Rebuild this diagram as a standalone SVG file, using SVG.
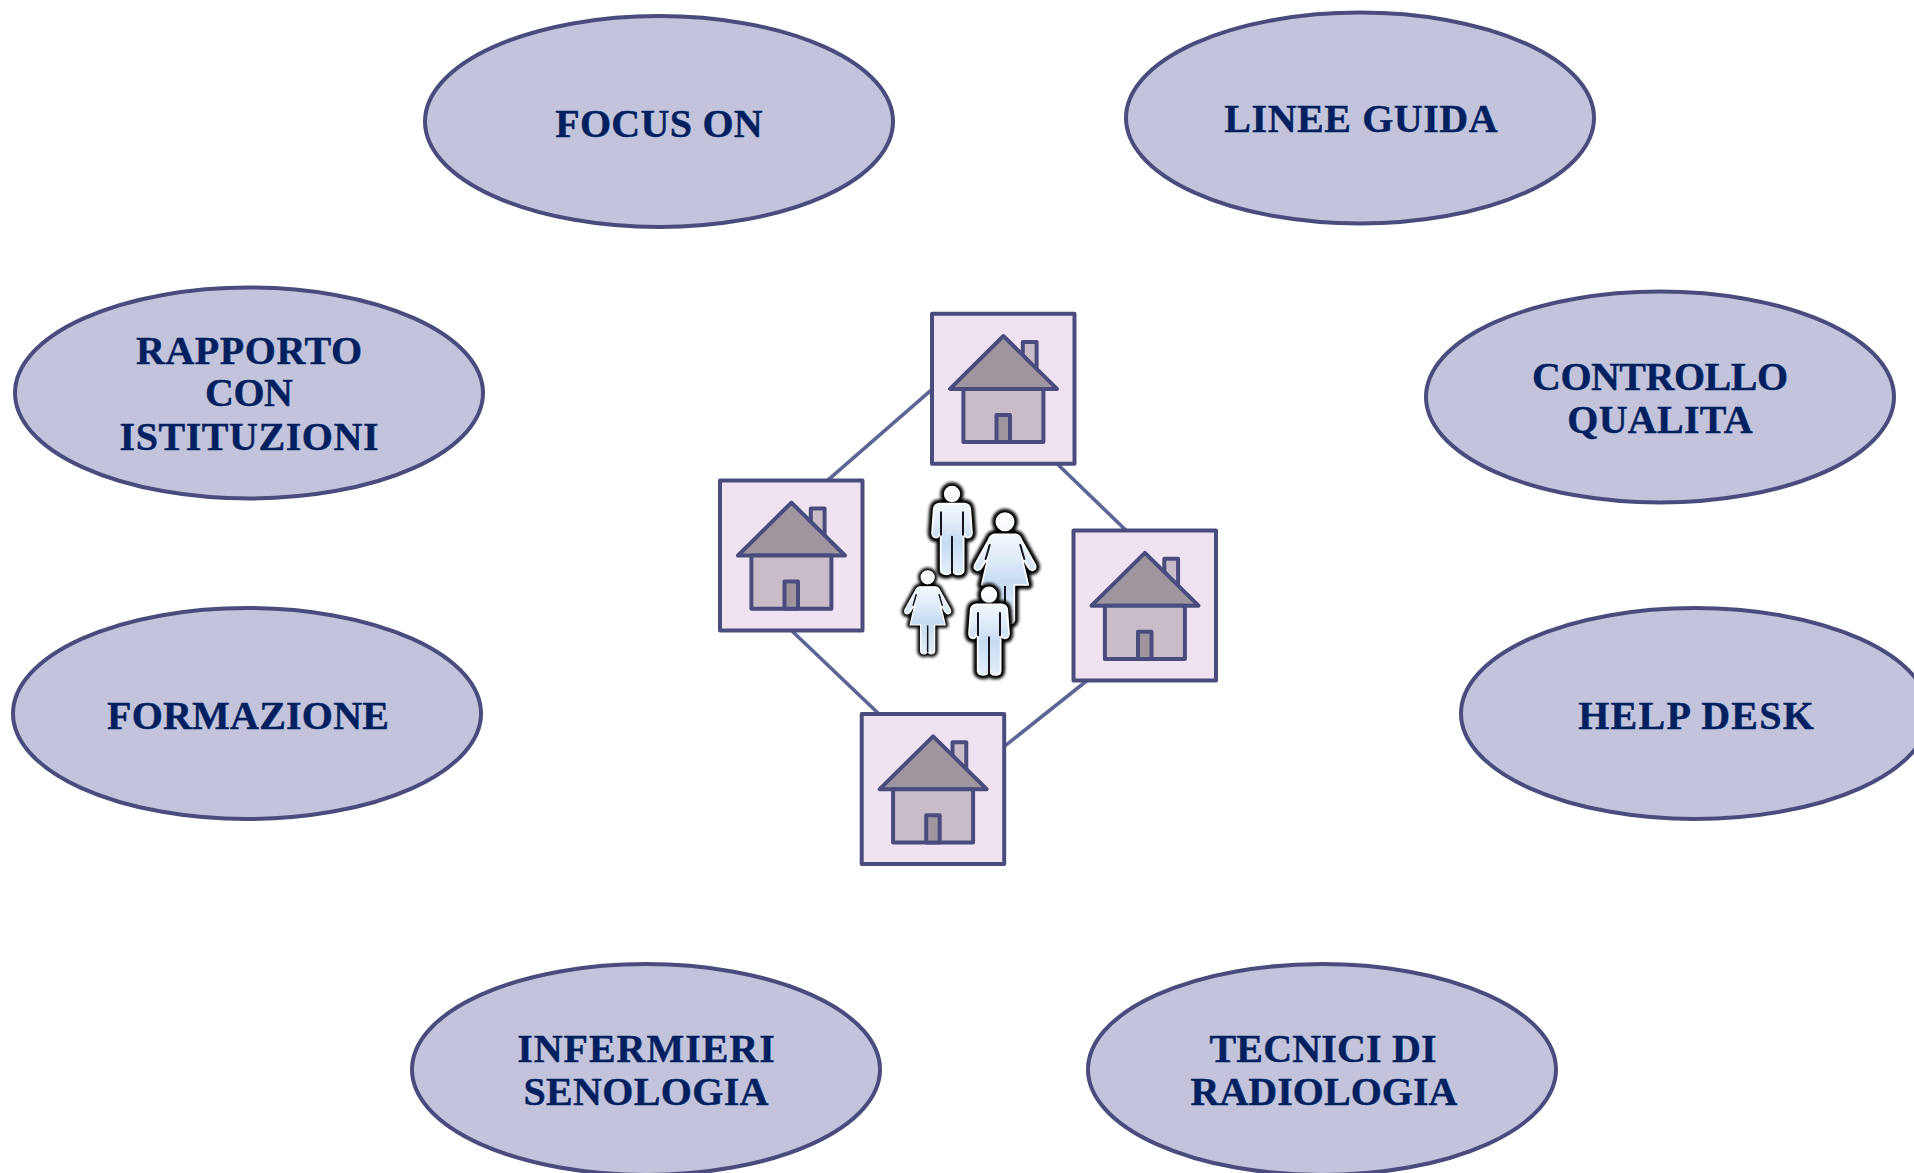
<svg xmlns="http://www.w3.org/2000/svg" width="1914" height="1173" viewBox="0 0 1914 1173">
<style>
.bg{fill:#fff}
.oval{fill:#c3c4dc;stroke:#4a4c7e;stroke-width:4}
.lbl{font-family:"Liberation Serif","Times New Roman",serif;font-weight:700;font-size:40px;fill:#002060;stroke:#002060;stroke-width:.4;text-anchor:middle}
.conn{stroke:#5e6494;stroke-width:3.6;fill:none}
.box{fill:#f0e3f1;stroke:#4a4c7e;stroke-width:4;stroke-linejoin:round}
.roof{fill:#9f959f;stroke:#4a4c7e;stroke-width:4;stroke-linejoin:round}
.wall{fill:#c8bcc8;stroke:#4a4c7e;stroke-width:4;stroke-linejoin:round}
.door{fill:#9f959f;stroke:#4a4c7e;stroke-width:4;stroke-linejoin:round}
.halo{fill:#000;stroke:#000;stroke-width:26;stroke-linejoin:round;filter:url(#blur)}
.fig{fill:url(#skin);stroke:#fff;stroke-width:5;stroke-linejoin:round}
.gap{fill:none;stroke:#14141e;stroke-width:6;stroke-linecap:round}
</style>
<defs>
<linearGradient id="skin" x1="0" y1="0" x2="0" y2="1">
<stop offset="0" stop-color="#ffffff"/><stop offset="0.35" stop-color="#e6f0fa"/><stop offset="0.62" stop-color="#c6dcf2"/><stop offset="1" stop-color="#e4eef8"/>
</linearGradient>
<filter id="blur" x="-30%" y="-30%" width="160%" height="160%"><feGaussianBlur stdDeviation="5.500"/></filter>
<path id="man" d="M-22 0A22 22 0 1 0 22 0A22 22 0 1 0 -22 0ZM-38 29H38Q54 31 55 47L60 117Q59 131 48 131Q39 131 38 120L35 125V230Q34 241 18 241Q4 241 1 225Q-3 241 -16 241Q-32 241 -34 230V125L-38 120Q-39 131 -48 131Q-59 131 -60 117L-55 47Q-54 31 -38 29Z"/>
<path id="manGap" d="M-33 55V122M33 55V122M0 128V238"/>
<path id="woman" d="M-26 0A26 26 0 1 0 26 0A26 26 0 1 0 -26 0ZM-32 38H32Q44 40 50 56L90 128Q96 142 84 146Q76 148 70 138L50 105L70 190H28V295Q26 306 14 306Q4 306 0 295Q-4 306 -14 306Q-26 306 -28 295V190H-70L-50 105L-70 138Q-76 148 -84 146Q-96 142 -90 128L-50 56Q-44 40 -32 38Z"/>
<path id="womanGap" d="M-46 70L-58 112M46 70L58 112M0 195V298"/>
<g id="house">
<rect class="box" x="932" y="313.800" width="142.500" height="150"/>
<path class="wall" d="M1022.800 355V342H1036.600V372Z"/>
<path class="roof" d="M1003.400 336L950 388.900H1057Z"/>
<rect class="wall" x="963.400" y="388.900" width="80" height="53.200"/>
<rect class="door" x="996.500" y="414.900" width="13.500" height="27.200"/>
</g>
</defs>
<rect class="bg" width="1914" height="1173"/>
<g id="connectors">
<line class="conn" x1="931.700" y1="389.600" x2="827.600" y2="480.400"/>
<line class="conn" x1="1057.600" y1="464.300" x2="1125.900" y2="530.200"/>
<line class="conn" x1="792" y1="631" x2="879" y2="714"/>
<line class="conn" x1="1004" y1="746.700" x2="1089" y2="679"/>
</g>
<g id="node-focus-on"><ellipse class="oval" cx="659" cy="121.500" rx="234" ry="105.500"/><text class="lbl" x="659" y="136.500" textLength="207.500">FOCUS ON</text></g>
<g id="node-linee-guida"><ellipse class="oval" cx="1360" cy="118" rx="234" ry="105.500"/><text class="lbl" x="1361" y="132" textLength="273.400">LINEE GUIDA</text></g>
<g id="node-rapporto"><ellipse class="oval" cx="249" cy="393" rx="234" ry="105.500"/><text class="lbl" x="249" y="364" textLength="226">RAPPORTO</text><text class="lbl" x="249" y="406" textLength="88">CON</text><text class="lbl" x="249" y="450" textLength="259">ISTITUZIONI</text></g>
<g id="node-controllo"><ellipse class="oval" cx="1660" cy="397" rx="234" ry="105.500"/><text class="lbl" x="1660" y="390" textLength="256">CONTROLLO</text><text class="lbl" x="1660" y="433" textLength="185.500">QUALITA</text></g>
<g id="node-formazione"><ellipse class="oval" cx="247" cy="713.500" rx="234" ry="105.500"/><text class="lbl" x="248" y="729" textLength="282">FORMAZIONE</text></g>
<g id="node-help-desk"><ellipse class="oval" cx="1695" cy="713.500" rx="234" ry="105.500"/><text class="lbl" x="1696" y="729" textLength="235.600">HELP DESK</text></g>
<g id="node-infermieri"><ellipse class="oval" cx="646" cy="1069.500" rx="234" ry="105.500"/><text class="lbl" x="646" y="1062" textLength="257.600">INFERMIERI</text><text class="lbl" x="646" y="1105" textLength="245">SENOLOGIA</text></g>
<g id="node-tecnici"><ellipse class="oval" cx="1322" cy="1069.500" rx="234" ry="105.500"/><text class="lbl" x="1323" y="1062" textLength="227">TECNICI DI</text><text class="lbl" x="1324" y="1105" textLength="267">RADIOLOGIA</text></g>
<g id="node-house-top"><use href="#house"/></g>
<g id="node-house-left"><use href="#house" transform="translate(-212 166.600)"/></g>
<g id="node-house-right"><use href="#house" transform="translate(141.500 216.800)"/></g>
<g id="node-house-bottom"><use href="#house" transform="translate(-70.300 400.300)"/></g>
<g id="node-family" transform="translate(890 470) scale(0.3333)">
<g transform="translate(186 72)"><use href="#man" class="halo"/><use href="#man" class="fig"/><use href="#manGap" class="gap"/></g>
<g transform="translate(345 155)"><use href="#woman" class="halo"/><use href="#woman" class="fig"/><use href="#womanGap" class="gap"/></g>
<g transform="translate(113 322) scale(0.75)"><use href="#woman" class="halo"/><use href="#woman" class="fig"/><use href="#womanGap" class="gap"/></g>
<g transform="translate(297 374)"><use href="#man" class="halo"/><use href="#man" class="fig"/><use href="#manGap" class="gap"/></g>
</g>
</svg>
